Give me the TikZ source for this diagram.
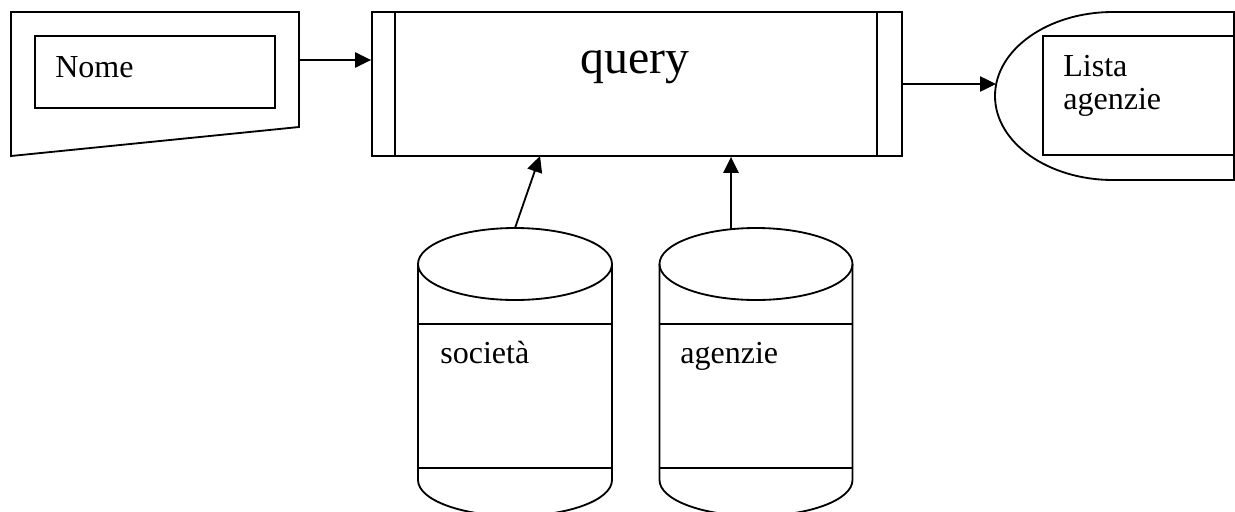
\documentclass[tikz,border=0pt]{standalone}
\usepackage{fontspec}
\setmainfont{Liberation Serif}
\usetikzlibrary{arrows.meta}
\tikzset{
  line/.style={line width=1.3pt},
  flow/.style={line, -{Triangle[length=0.4cm,width=0.38cm]}},
  box/.style={line, draw, rectangle, inner sep=0pt},
  lbl/.style={font=\fontsize{22.8}{23.5}\selectfont, inner sep=0pt},
}

\begin{document}
\begin{tikzpicture}
                    \useasboundingbox (0,0) rectangle (30.875,-12.775);
                    % input
                    \draw[line] (0.275,-0.3) -- (7.475,-0.3) -- (7.475,-3.175) -- (0.275,-3.9) -- cycle;
                    \node[box, minimum width=6cm, minimum height=1.8cm] (nomebox) at (3.875,-1.8) {};
                    \node[lbl, anchor=base west] (nome) at (1.375,-1.925) {Nome};
                    \coordinate (nomeout) at (7.475,-1.5);
                    % query
                    \node[box, minimum width=13.25cm, minimum height=3.6cm] (query) at (15.925,-2.1) {};
                    \draw[line] (9.875,-0.3) -- (9.875,-3.9);
                    \draw[line] (21.925,-0.3) -- (21.925,-3.9);
                    \node[lbl, font=\fontsize{34}{36}\selectfont, anchor=base] (querytxt) at (15.875,-1.825) {query};
                    % output
                    \draw[line] (27.825,-0.3) -- (30.85,-0.3) -- (30.85,-4.5) -- (27.825,-4.5) arc [start angle=270, end angle=90, x radius=2.95cm, y radius=2.1cm];
                    \node[box, minimum width=4.775cm, minimum height=2.975cm] (listabox) at (28.4625,-2.3875) {};
                    \node[lbl, align=left, anchor=north west] (lista) at (26.575,-1.375) {Lista\\agenzie};
                    \coordinate (listain) at (24.9,-2.1);
                    % archivio societa
                    \draw[line] (12.875,-6.6) ellipse [x radius=2.425cm, y radius=0.9cm];
                    \draw[line] (10.45,-6.6) -- (10.45,-12.0) arc [start angle=180, end angle=360, x radius=2.425cm, y radius=0.9cm] -- (15.3,-6.6);
                    \draw[line] (10.45,-8.1) -- (15.3,-8.1);
                    \draw[line] (10.45,-11.7) -- (15.3,-11.7);
                    \node[lbl, anchor=base west] (societa) at (11,-9.075) {società};
                    \coordinate (socout) at (12.875,-5.7);
                    \coordinate (socin) at (13.5,-3.9);
                    % archivio agenzie
                    \draw[line] (18.9,-6.6) ellipse [x radius=2.4125cm, y radius=0.9cm];
                    \draw[line] (16.4875,-6.6) -- (16.4875,-12.0) arc [start angle=180, end angle=360, x radius=2.4125cm, y radius=0.9cm] -- (21.3125,-6.6);
                    \draw[line] (16.4875,-8.1) -- (21.3125,-8.1);
                    \draw[line] (16.4875,-11.7) -- (21.3125,-11.7);
                    \node[lbl, anchor=base west] (agenzie) at (17,-9.075) {agenzie};
                    \coordinate (agout) at (18.275,-5.73);
                    % flussi
                    \draw[flow] (nomeout) -- (query.west |- nomeout);
                    \draw[flow] (query.east |- listain) -- (listain);
                    \draw[flow] (socout) -- (socin);
                    \draw[flow] (agout) -- (query.south -| agout);
               \end{tikzpicture}
\end{document}
